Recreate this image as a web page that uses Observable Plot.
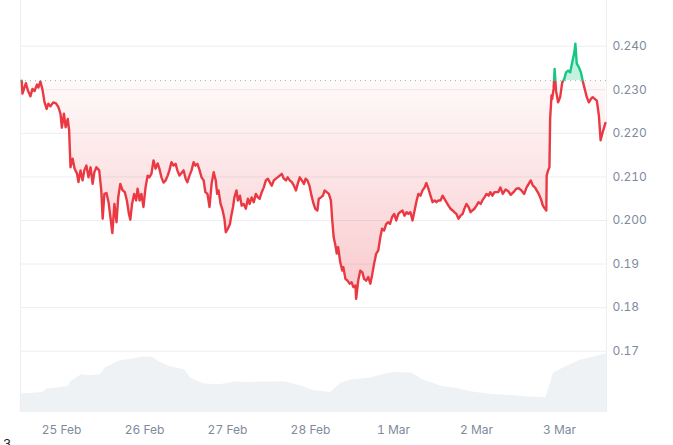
<!DOCTYPE html>
<html><head><meta charset="utf-8">
<script src="https://cdn.jsdelivr.net/npm/d3@7"></script>
<script src="https://cdn.jsdelivr.net/npm/@observablehq/plot@0.6"></script>
<style>
body{margin:0;background:#fff;font-family:Inter,sans-serif;}
#wrap{position:relative;width:673px;height:438px;}
#wrap svg{position:absolute;left:0;top:0;}
#cap{font-size:13px;color:#222;padding-left:3px;line-height:12px;}
</style></head><body>
<div id="wrap"></div>
<div id="cap">3</div>
<script>
// hours since 24 Feb 2025 00:00 UTC
const hours = [
12.5,12.7,13.7,14.3,15.0,15.6,16.2,16.9,17.3,17.9,
18.5,19.1,19.7,20.2,20.8,21.6,22.4,23.1,23.7,24.1,
24.7,25.2,25.8,26.2,26.6,27.2,27.8,28.5,28.9,29.5,
30.1,30.6,31.2,31.8,32.4,33.0,33.5,34.1,34.9,35.5,
35.9,36.4,37.0,37.6,38.2,38.7,39.3,39.9,40.4,41.0,
41.6,42.3,42.9,43.5,43.9,44.4,45.0,45.6,46.0,46.6,
47.1,47.7,48.3,48.9,49.4,50.0,50.6,51.2,51.8,52.3,
52.9,53.5,54.1,54.7,55.2,55.8,56.4,57.0,57.5,58.1,
58.7,59.3,59.9,60.4,61.0,61.6,62.2,62.7,63.3,63.9,
64.5,65.1,65.6,66.2,66.8,67.4,68.0,68.6,69.0,69.4,
70.0,70.6,71.1,71.5,72.1,72.7,73.1,73.6,74.0,74.6,
75.0,75.6,76.1,76.7,77.3,77.9,78.4,79.0,79.6,80.2,
80.8,81.3,81.9,82.5,83.1,83.7,84.2,84.8,85.4,86.0,
86.5,87.1,87.7,88.3,88.9,89.4,90.0,90.6,91.2,91.8,
92.3,92.9,93.5,94.1,94.6,95.1,95.7,96.3,96.9,97.4,
98.0,98.4,99.0,99.6,100.1,100.7,101.3,101.9,102.3,102.7,
103.2,103.6,104.0,104.6,105.2,105.5,106.1,106.7,107.3,107.9,
108.4,109.0,109.2,109.8,110.4,111.0,111.5,112.1,112.7,113.3,
113.8,114.4,115.0,115.6,116.2,116.7,117.3,117.9,118.5,119.0,
119.6,120.2,120.8,121.4,121.9,122.6,123.2,123.8,124.3,124.9,
125.5,126.1,126.7,127.2,127.8,128.4,129.0,129.5,130.1,130.7,
131.3,131.9,132.4,133.0,133.6,134.2,134.7,135.3,135.9,136.5,
137.1,137.6,138.2,138.8,139.4,140.0,140.5,141.1,141.7,142.3,
142.8,143.4,144.0,144.6,145.2,145.7,146.3,146.9,147.5,148.0,
148.6,149.2,150.3,150.9,151.6,152.4,153.2,153.9,154.7,155.5,
156.2,157.0,157.8,158.5,159.1,159.7,160.3,160.9,161.4,162.0,
162.6,163.2,163.8,164.2,164.3,164.7,165.1,165.3,165.7,165.9,
166.3,166.6,167.0,167.6,168.2,168.8,169.4,169.9,170.5,171.1,
171.7,172.3,172.6,173.0,173.6,174.2,174.7,175.3,175.9,176.5,
177.1,177.6,178.2,178.8,179.4,179.9,180.5,181.3
];
const prices = [
0.2321,0.2291,0.2315,0.2298,0.2285,0.2302,0.2297,0.2312,0.2305,0.2319,
0.2300,0.2271,0.2256,0.2268,0.2262,0.2271,0.2269,0.2260,0.2245,0.2213,
0.2245,0.2214,0.2233,0.2207,0.2122,0.2142,0.2119,0.2107,0.2088,0.2115,
0.2092,0.2115,0.2126,0.2099,0.2122,0.2084,0.2111,0.2122,0.2115,0.2069,
0.2004,0.2061,0.2063,0.2042,0.2004,0.1971,0.2038,0.1996,0.2053,0.2084,
0.2070,0.2065,0.2046,0.2015,0.2002,0.2038,0.2061,0.2046,0.2073,0.2046,
0.2061,0.2031,0.2076,0.2103,0.2099,0.2107,0.2138,0.2119,0.2131,0.2119,
0.2099,0.2087,0.2092,0.2103,0.2115,0.2134,0.2126,0.2130,0.2115,0.2103,
0.2109,0.2115,0.2096,0.2088,0.2103,0.2115,0.2134,0.2126,0.2130,0.2116,
0.2099,0.2092,0.2065,0.2061,0.2031,0.2084,0.2111,0.2092,0.2061,0.2069,
0.2038,0.2023,0.2004,0.1973,0.1981,0.1992,0.2011,0.2031,0.2053,0.2069,
0.2046,0.2057,0.2034,0.2038,0.2027,0.2050,0.2038,0.2053,0.2042,0.2061,
0.2053,0.2050,0.2065,0.2076,0.2092,0.2096,0.2088,0.2080,0.2092,0.2096,
0.2099,0.2103,0.2107,0.2096,0.2092,0.2099,0.2092,0.2088,0.2080,0.2069,
0.2084,0.2099,0.2092,0.2084,0.2096,0.2092,0.2080,0.2057,0.2038,0.2027,
0.2023,0.2050,0.2053,0.2057,0.2069,0.2065,0.2061,0.2046,0.2000,0.1962,
0.1943,0.1924,0.1939,0.1904,0.1885,0.1893,0.1866,0.1862,0.1855,0.1858,
0.1847,0.1851,0.1820,0.1862,0.1885,0.1881,0.1866,0.1862,0.1870,0.1855,
0.1874,0.1901,0.1924,0.1931,0.1962,0.1981,0.1977,0.1992,0.1996,0.1992,
0.2008,0.2015,0.2000,0.2015,0.2019,0.2023,0.2011,0.2019,0.2015,0.2019,
0.2000,0.2023,0.2046,0.2061,0.2057,0.2069,0.2076,0.2086,0.2073,0.2057,
0.2042,0.2046,0.2042,0.2046,0.2046,0.2057,0.2050,0.2042,0.2034,0.2027,
0.2023,0.2019,0.2015,0.2004,0.2011,0.2015,0.2027,0.2038,0.2031,0.2019,
0.2023,0.2027,0.2034,0.2042,0.2038,0.2046,0.2053,0.2061,0.2057,0.2065,
0.2057,0.2065,0.2065,0.2076,0.2061,0.2071,0.2067,0.2059,0.2065,0.2073,
0.2074,0.2069,0.2061,0.2076,0.2084,0.2092,0.2080,0.2076,0.2069,0.2061,
0.2050,0.2034,0.2027,0.2023,0.2103,0.2115,0.2122,0.2233,0.2287,0.2279,
0.2302,0.2348,0.2298,0.2271,0.2283,0.2317,0.2325,0.2340,0.2344,0.2340,
0.2363,0.2386,0.2406,0.2360,0.2352,0.2340,0.2321,0.2302,0.2283,0.2271,
0.2279,0.2283,0.2279,0.2275,0.2241,0.2184,0.2203,0.2224
];
const baseline = 0.2321;

const volHours = [12.1,18.6,19.8,26.0,26.7,29.8,32.2,35.3,36.6,41.0,44.7,47.2,50.3,52.1,55.2,59.6,61.4,65.1,69.5,74.5,78.2,83.2,88.7,93.1,96.8,101.8,104.9,108.0,113.0,117.9,120.4,125.3,128.5,134.1,137.8,142.1,146.5,150.2,155.2,158.9,164.1,166.3,170.0,173.8,177.5,181.6];
const volumes = [26.3,28.6,33.4,37.1,44.3,53.9,52.4,53.9,63.4,73.9,76.3,79.1,79.1,72.9,65.7,61.0,49.1,41.0,39.6,43.4,42.9,43.4,43.4,38.1,31.4,28.6,42.0,46.7,49.1,54.9,57.1,56.3,46.7,37.1,34.9,30.0,26.7,25.3,23.9,22.0,21.4,56.3,65.7,74.3,79.1,83.9];

const yTicks = [0.17,0.18,0.19,0.20,0.21,0.22,0.23,0.24];
const yLabels = ["0.17","0.18","0.19","0.200","0.210","0.220","0.230","0.240"];
const xTickDates = ["2025-02-25","2025-02-26","2025-02-27","2025-02-28","2025-03-01","2025-03-02","2025-03-03"];
const xLabels = ["25 Feb","26 Feb","27 Feb","28 Feb","1 Mar","2 Mar","3 Mar"];
const rangeHours = [12.14, 181.6];
const yDomain = [0.15593, 0.25049];

const t0 = Date.UTC(2025, 1, 24);
const toDate = h => new Date(t0 + h * 3600e3);
const data = hours.map((h, i) => ({date: toDate(h), price: prices[i]}));
const volData = volHours.map((h, i) => ({date: toDate(h), vol: volumes[i]}));
const xDomain = rangeHours.map(toDate);
const xTicks = xTickDates.map(s => new Date(s + "T00:00:00Z"));
const yLab = new Map(yTicks.map((t, i) => [t, yLabels[i]]));
const xLab = new Map(xTicks.map((t, i) => [+t, xLabels[i]]));

const W = 673, H = 438;
const common = {width: W, height: H, marginLeft: 20, marginRight: 67, marginTop: 0, marginBottom: 26};

const vol = Plot.plot({
  ...common,
  style: {background: "transparent"},
  x: {type: "utc", domain: xDomain, axis: null},
  y: {domain: [0, 100], range: [412, 342], axis: null},
  marks: [Plot.areaY(volData, {x: "date", y: "vol", fill: "#eff2f5"})]
});

const chart = Plot.plot({
  ...common,
  style: {background: "transparent", fontFamily: "Inter, sans-serif", fontSize: "12px"},
  x: {type: "utc", domain: xDomain, label: null},
  y: {domain: yDomain, label: null},
  marks: [
    Plot.gridY(yTicks, {stroke: "#eceef1", strokeOpacity: 1}),
    Plot.ruleX(xDomain, {stroke: "#eceef1"}),
    Plot.areaY(data, {x: "date", y1: baseline, y2: "price", fill: "url(#cmcFill)"}),
    Plot.ruleY([baseline], {stroke: "#a6adbd", strokeDasharray: "1,4"}),
    Plot.lineY(data, {x: "date", y: "price", stroke: "url(#cmcLine)", strokeWidth: 2.4, strokeLinejoin: "round"}),
    Plot.axisY(yTicks, {anchor: "right", label: null, tickSize: 0, tickPadding: 6, tickFormat: d => yLab.get(d), color: "#808a9d", fontSize: 12}),
    Plot.axisX(xTicks, {label: null, tickSize: 0, tickPadding: 13, tickFormat: d => xLab.get(+d), color: "#808a9d", fontSize: 12})
  ]
});

const ys = chart.scale("y");
const bo = ys.apply(baseline) / H;
const mo = ys.apply(d3.min(prices)) / H;
const defs = document.createElementNS("http://www.w3.org/2000/svg", "defs");
defs.innerHTML = `
<linearGradient id="cmcLine" gradientUnits="userSpaceOnUse" x1="0" y1="0" x2="0" y2="${H}">
  <stop offset="0" stop-color="#16c784"/><stop offset="${bo}" stop-color="#16c784"/>
  <stop offset="${bo}" stop-color="#ea3943"/><stop offset="1" stop-color="#ea3943"/>
</linearGradient>
<linearGradient id="cmcFill" gradientUnits="userSpaceOnUse" x1="0" y1="0" x2="0" y2="${H}">
  <stop offset="0" stop-color="#16c784" stop-opacity="0.32"/><stop offset="${bo}" stop-color="#16c784" stop-opacity="0.25"/>
  <stop offset="${bo}" stop-color="#ea3943" stop-opacity="0.03"/><stop offset="${mo}" stop-color="#ea3943" stop-opacity="0.27"/>
  <stop offset="1" stop-color="#ea3943" stop-opacity="0.27"/>
</linearGradient>`;
chart.insertBefore(defs, chart.firstChild);

const wrap = document.getElementById("wrap");
wrap.appendChild(vol);
wrap.appendChild(chart);
</script></body></html>
